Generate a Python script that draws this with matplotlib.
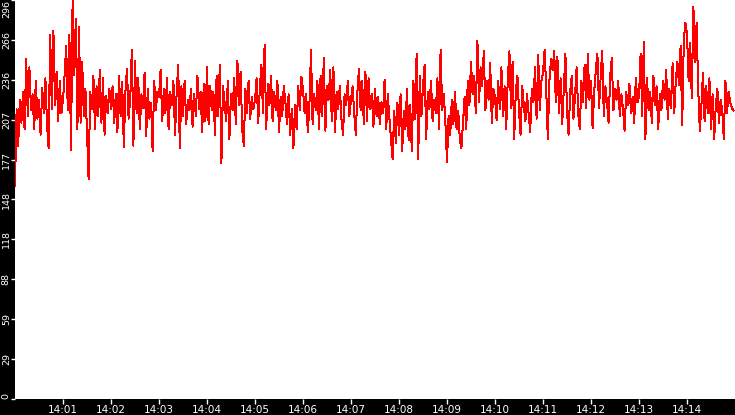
import numpy as np
import matplotlib
matplotlib.use('Agg')
import matplotlib.pyplot as plt
import matplotlib.dates as mdates

# one reading every 2 seconds, 14:00:00 .. 14:14:58 (one row = one minute)
values = [
    158, 215, 188, 222, 205, 228, 200, 252, 210, 246, 214, 226, 200, 236, 208, 222, 196, 231, 212, 238, 204, 186, 270, 215, 273, 218, 243, 206, 236, 212,
    222, 240, 262, 214, 270, 185, 296, 240, 282, 200, 276, 205, 250, 210, 230, 198, 163, 228, 215, 240, 200, 232, 210, 244, 205, 238, 196, 225, 212, 230,
    215, 232, 205, 226, 198, 240, 210, 235, 187, 228, 245, 208, 222, 259, 188, 251, 212, 238, 200, 226, 216, 242, 195, 230, 208, 220, 184, 236, 214, 228,
    224, 244, 206, 230, 212, 238, 200, 228, 218, 236, 196, 226, 248, 186, 232, 210, 236, 204, 222, 214, 230, 202, 226, 210, 240, 215, 228, 198, 234, 206,
    246, 204, 232, 214, 228, 196, 240, 210, 248, 175, 232, 220, 206, 236, 193, 226, 214, 238, 204, 251, 218, 243, 200, 188, 230, 212, 236, 208, 224, 215,
    222, 238, 205, 230, 248, 212, 263, 200, 234, 218, 240, 206, 228, 214, 236, 198, 224, 210, 232, 220, 204, 226, 196, 215, 186, 218, 200, 232, 214, 239,
    230, 212, 226, 198, 218, 259, 204, 226, 214, 236, 200, 240, 210, 253, 199, 232, 222, 244, 206, 246, 198, 228, 215, 232, 208, 196, 226, 218, 236, 210,
    222, 232, 212, 196, 228, 245, 214, 236, 204, 243, 206, 238, 215, 226, 202, 230, 210, 224, 204, 220, 212, 237, 200, 226, 208, 193, 178, 214, 190, 220,
    196, 226, 184, 214, 200, 230, 192, 218, 184, 236, 208, 256, 178, 240, 210, 232, 248, 193, 228, 215, 236, 206, 222, 212, 238, 200, 259, 214, 226, 205,
    176, 210, 196, 222, 204, 228, 200, 214, 193, 186, 205, 224, 200, 236, 218, 250, 226, 240, 212, 266, 220, 246, 232, 258, 214, 236, 222, 249, 205, 230,
    224, 207, 236, 215, 246, 210, 232, 200, 238, 258, 216, 250, 193, 228, 240, 214, 196, 232, 218, 206, 226, 212, 198, 230, 220, 246, 208, 255, 214, 236,
    242, 259, 230, 193, 236, 252, 244, 258, 220, 254, 212, 238, 204, 230, 256, 214, 196, 228, 240, 208, 224, 246, 212, 200, 236, 220, 248, 216, 256, 222,
    236, 201, 228, 244, 256, 216, 238, 258, 210, 232, 220, 205, 240, 253, 214, 230, 222, 236, 210, 226, 215, 199, 228, 218, 234, 212, 224, 205, 238, 220,
    224, 256, 210, 265, 193, 238, 214, 228, 205, 240, 218, 232, 200, 226, 214, 236, 222, 244, 208, 230, 216, 249, 212, 236, 250, 233, 262, 203, 266, 279,
    271, 236, 264, 223, 291, 250, 279, 230, 199, 218, 242, 206, 232, 212, 238, 200, 226, 193, 218, 230, 205, 222, 214, 193, 236, 212, 228, 220, 216, 214,
]
y_max = 296
start = np.datetime64('2024-01-01T14:00:00')

times = start + np.arange(len(values)) * np.timedelta64(2, 's')
yticks = [y_max * k / 10 for k in range(11)]
ylabels = [str(int(v)) for v in yticks]
xticks = start + np.arange(1, 15) * np.timedelta64(60, 's')

plt.rcParams['font.family'] = ['DejaVu Sans']

fig = plt.figure(figsize=(7.35, 4.15), dpi=100, facecolor='black')
ax = fig.add_axes([15 / 735, 16 / 415, 720 / 735, 399 / 415])
ax.set_facecolor('white')
ax.plot(times, values, color='#ff0000', linewidth=0.72, antialiased=False)

ax.set_xlim(start, start + np.timedelta64(900, 's'))
ax.set_ylim(0, y_max)
ax.set_xticks(xticks)
ax.xaxis.set_major_formatter(mdates.DateFormatter('%H:%M'))
ax.set_yticks(yticks)
ax.set_yticklabels(ylabels, rotation=90, va='center')
ax.get_yticklabels()[-1].set_va('top')
ax.get_yticklabels()[0].set_va('bottom')

ax.tick_params(colors='white', width=1)
ax.tick_params(axis='x', labelsize=7.5, length=3.6, pad=1)
ax.tick_params(axis='y', labelsize=6.8, length=3.0, pad=0)
for s in ax.spines.values():
    s.set_visible(False)

fig.savefig('out.png', dpi=100, facecolor='black')
